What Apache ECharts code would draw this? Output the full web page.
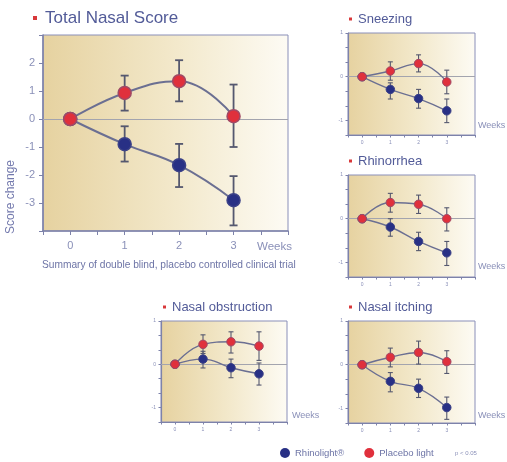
<!DOCTYPE html>
<html><head><meta charset="utf-8">
<script src="https://cdn.jsdelivr.net/npm/echarts@6/dist/echarts.min.js"></script>
<style>html,body{margin:0;padding:0;background:#fff}#c{width:507px;height:462px}</style>
</head><body><div id="c"></div>
<script>
const weeks = [0, 1, 2, 3];

const totalRhino = [0, -0.9, -1.65, -2.9];
const totalRhinoLow = [0, -1.52, -2.43, -3.8];
const totalRhinoHigh = [0, -0.26, -0.89, -2.04];
const totalPlacebo = [0, 0.93, 1.35, 0.1];
const totalPlaceboLow = [0, 0.3, 0.63, -1.0];
const totalPlaceboHigh = [0, 1.55, 2.1, 1.23];

const sneezRhino = [0, -0.29, -0.5, -0.78];
const sneezRhinoLow = [0, -0.51, -0.72, -1.05];
const sneezRhinoHigh = [0, -0.14, -0.29, -0.51];
const sneezPlacebo = [0, 0.13, 0.3, -0.12];
const sneezPlaceboLow = [0, -0.08, 0.11, -0.39];
const sneezPlaceboHigh = [0, 0.34, 0.5, 0.15];

const rhinoRhino = [0, -0.19, -0.52, -0.78];
const rhinoRhinoLow = [0, -0.4, -0.73, -1.07];
const rhinoRhinoHigh = [0, 0, -0.31, -0.52];
const rhinoPlacebo = [0, 0.37, 0.33, 0];
const rhinoPlaceboLow = [0, 0.15, 0.12, -0.28];
const rhinoPlaceboHigh = [0, 0.58, 0.54, 0.25];

const obstRhino = [0, 0.12, -0.08, -0.22];
const obstRhinoLow = [0, -0.085, -0.31, -0.48];
const obstRhinoHigh = [0, 0.3, 0.12, 0.03];
const obstPlacebo = [0, 0.46, 0.52, 0.42];
const obstPlaceboLow = [0, 0.25, 0.26, 0.09];
const obstPlaceboHigh = [0, 0.68, 0.75, 0.75];

const itchRhino = [0, -0.38, -0.54, -0.98];
const itchRhinoLow = [0, -0.62, -0.75, -1.25];
const itchRhinoHigh = [0, -0.18, -0.33, -0.74];
const itchPlacebo = [0, 0.17, 0.28, 0.07];
const itchPlaceboLow = [0, -0.05, 0.015, -0.2];
const itchPlaceboHigh = [0, 0.38, 0.54, 0.32];

const xTickLabels = ['0', '1', '2', '3'];
const seriesNames = ['Rhinolight\u00AE', 'Placebo light'];

const FONT = 'Liberation Sans';
const C_TEXT = '#525b98';
const C_AXIS = '#7d82aa';
const C_LABEL = '#8a90b8';
const C_LINE = '#6b6f92';
const C_BLUE = '#283085';
const C_RED = '#e0303c';

const panels = [
  {title: 'Total Nasal Score', main: true, grid: {left: 43, top: 35, width: 245, height: 196},
   r: totalRhino, rl: totalRhinoLow, rh: totalRhinoHigh, p: totalPlacebo, pl: totalPlaceboLow, ph: totalPlaceboHigh},
  {title: 'Sneezing', grid: {left: 348, top: 33, width: 127, height: 102},
   r: sneezRhino, rl: sneezRhinoLow, rh: sneezRhinoHigh, p: sneezPlacebo, pl: sneezPlaceboLow, ph: sneezPlaceboHigh},
  {title: 'Rhinorrhea', grid: {left: 348, top: 175, width: 127, height: 102},
   r: rhinoRhino, rl: rhinoRhinoLow, rh: rhinoRhinoHigh, p: rhinoPlacebo, pl: rhinoPlaceboLow, ph: rhinoPlaceboHigh},
  {title: 'Nasal obstruction', grid: {left: 161, top: 321, width: 126, height: 101},
   r: obstRhino, rl: obstRhinoLow, rh: obstRhinoHigh, p: obstPlacebo, pl: obstPlaceboLow, ph: obstPlaceboHigh},
  {title: 'Nasal itching', grid: {left: 348, top: 321, width: 127, height: 102},
   r: itchRhino, rl: itchRhinoLow, rh: itchRhinoHigh, p: itchPlacebo, pl: itchPlaceboLow, ph: itchPlaceboHigh}
];

const grad = {type: 'linear', x: 0, y: 0, x2: 1, y2: 0,
  colorStops: [{offset: 0, color: '#e6d2a0'}, {offset: 0.55, color: '#f3e9cc'}, {offset: 1, color: '#fdfbf4'}]};

const isInt = v => Math.abs(v - Math.round(v)) < 1e-6;

const grids = [], xAxes = [], yAxes = [], series = [], graphics = [];

panels.forEach((pn, i) => {
  const m = !!pn.main;
  grids.push(Object.assign({show: true, borderColor: '#8a8fb8', borderWidth: 1, backgroundColor: grad}, pn.grid));
  xAxes.push({gridIndex: i, type: 'value', min: -0.5, max: 4, interval: 0.5,
    axisLine: {onZero: false, lineStyle: {color: C_AXIS, width: m ? 1.6 : 1.2}},
    axisTick: {length: m ? 4 : 2.5, lineStyle: {color: C_AXIS}},
    splitLine: {show: false},
    axisLabel: {fontFamily: FONT, fontSize: m ? 11 : 5, color: C_LABEL, margin: m ? 9 : 5,
      formatter: v => (isInt(v) && v >= 0 && v <= 3) ? xTickLabels[Math.round(v)] : ''}});
  if (m) {
    yAxes.push({gridIndex: i, type: 'value', min: -4, max: 3, interval: 1,
      axisLine: {show: true, onZero: false, lineStyle: {color: C_AXIS, width: 1.6}},
      axisTick: {show: true, length: 4, lineStyle: {color: C_AXIS}},
      splitLine: {show: false},
      axisLabel: {fontFamily: FONT, fontSize: 11, color: C_LABEL, margin: 8,
        formatter: v => (v >= -3 && v <= 2) ? String(Math.round(v)) : ''}});
  } else {
    yAxes.push({gridIndex: i, type: 'value', min: -4 / 3, max: 1, interval: 1 / 3,
      axisLine: {show: true, onZero: false, lineStyle: {color: C_AXIS, width: 1.2}},
      axisTick: {show: true, length: 2.5, lineStyle: {color: C_AXIS}},
      splitLine: {show: false},
      axisLabel: {fontFamily: FONT, fontSize: 5, color: C_LABEL, margin: 5,
        formatter: v => isInt(v) ? String(Math.round(v)) : ''}});
  }
  const cap = m ? 4 : 2.5;
  const errSeries = (lo, hi) => ({
    type: 'custom', xAxisIndex: i, yAxisIndex: i, z: 2, silent: true,
    data: weeks.map((w, k) => [w, lo[k], hi[k]]).filter(d => d[1] !== d[2]),
    renderItem: (params, api) => {
      const x = api.value(0);
      const a = api.coord([x, api.value(1)]);
      const b = api.coord([x, api.value(2)]);
      const st = {stroke: '#55586f', lineWidth: m ? 1.8 : 1.1};
      return {type: 'group', children: [
        {type: 'line', shape: {x1: a[0], y1: a[1], x2: b[0], y2: b[1]}, style: st},
        {type: 'line', shape: {x1: a[0] - cap, y1: a[1], x2: a[0] + cap, y2: a[1]}, style: st},
        {type: 'line', shape: {x1: b[0] - cap, y1: b[1], x2: b[0] + cap, y2: b[1]}, style: st}
      ]};
    }
  });
  series.push(errSeries(pn.rl, pn.rh));
  series.push(errSeries(pn.pl, pn.ph));
  const lineSeries = (name, vals, fill, border) => ({
    type: 'line', name: name, xAxisIndex: i, yAxisIndex: i, z: 3,
    data: weeks.map((w, k) => [w, vals[k]]),
    smooth: 0.45, symbol: 'circle', symbolSize: m ? 13 : 8.5,
    lineStyle: {color: C_LINE, width: m ? 2 : 1.4},
    itemStyle: {color: fill, borderColor: border, borderWidth: m ? 1.5 : 1}
  });
  const rs = lineSeries(seriesNames[0], pn.r, C_BLUE, '#3c4288');
  rs.markLine = {silent: true, symbol: 'none', label: {show: false}, z: 1,
    lineStyle: {color: '#a3a4ae', type: 'solid', width: 1}, data: [{yAxis: 0}]};
  series.push(rs);
  series.push(lineSeries(seriesNames[1], pn.p, C_RED, '#a04a66'));
});

// titles
const titleSpec = [
  {x: 45, y: 18, bx: 33, size: 17},
  {x: 358, y: 19, bx: 349, size: 13},
  {x: 358, y: 161, bx: 349, size: 13},
  {x: 172, y: 307, bx: 163, size: 13},
  {x: 358, y: 307, bx: 349, size: 13}
];
panels.forEach((pn, i) => {
  const t = titleSpec[i];
  const bs = pn.main ? 4 : 3;
  graphics.push({type: 'rect', shape: {x: t.bx, y: t.y - bs / 2, width: bs, height: bs}, style: {fill: '#d8383a'}});
  graphics.push({type: 'text', x: t.x, y: t.y, style: {text: pn.title, fontFamily: FONT, fontSize: t.size,
    fill: C_TEXT, textAlign: 'left', textVerticalAlign: 'middle', verticalAlign: 'middle'}});
});
// Weeks labels
[[257, 247, 11.5], [478, 126, 9], [478, 267, 9], [292, 416, 9], [478, 416, 9]].forEach(w => {
  graphics.push({type: 'text', x: w[0], y: w[1], style: {text: 'Weeks', fontFamily: FONT, fontSize: w[2],
    fill: C_LABEL, textAlign: 'left', textVerticalAlign: 'middle', verticalAlign: 'middle'}});
});
graphics.push({type: 'text', x: 42, y: 265, style: {text: 'Summary of double blind, placebo controlled clinical trial',
  fontFamily: FONT, fontSize: 10.2, fill: '#6d74a6', textAlign: 'left', textVerticalAlign: 'middle', verticalAlign: 'middle'}});
graphics.push({type: 'text', x: 11, y: 197, rotation: Math.PI / 2, style: {text: 'Score change',
  fontFamily: FONT, fontSize: 12, fill: '#7379ad', textAlign: 'center', textVerticalAlign: 'middle', verticalAlign: 'middle'}});
graphics.push({type: 'text', x: 455, y: 453, style: {text: 'p < 0.05',
  fontFamily: FONT, fontSize: 6, fill: '#8a90b8', textAlign: 'left', textVerticalAlign: 'middle', verticalAlign: 'middle'}});

const chart = echarts.init(document.getElementById('c'), null, {renderer: 'canvas'});
chart.setOption({
  animation: false,
  backgroundColor: '#ffffff',
  grid: grids, xAxis: xAxes, yAxis: yAxes, series: series,
  legend: {left: 280, top: 448, padding: 0, icon: 'circle', itemWidth: 10, itemHeight: 10, itemGap: 20,
    textStyle: {fontFamily: FONT, fontSize: 9.5, color: '#6d74a6'},
    data: [{name: seriesNames[0], itemStyle: {color: C_BLUE, borderWidth: 0}},
           {name: seriesNames[1], itemStyle: {color: C_RED, borderWidth: 0}}]},
  graphic: graphics
});
</script></body></html>
